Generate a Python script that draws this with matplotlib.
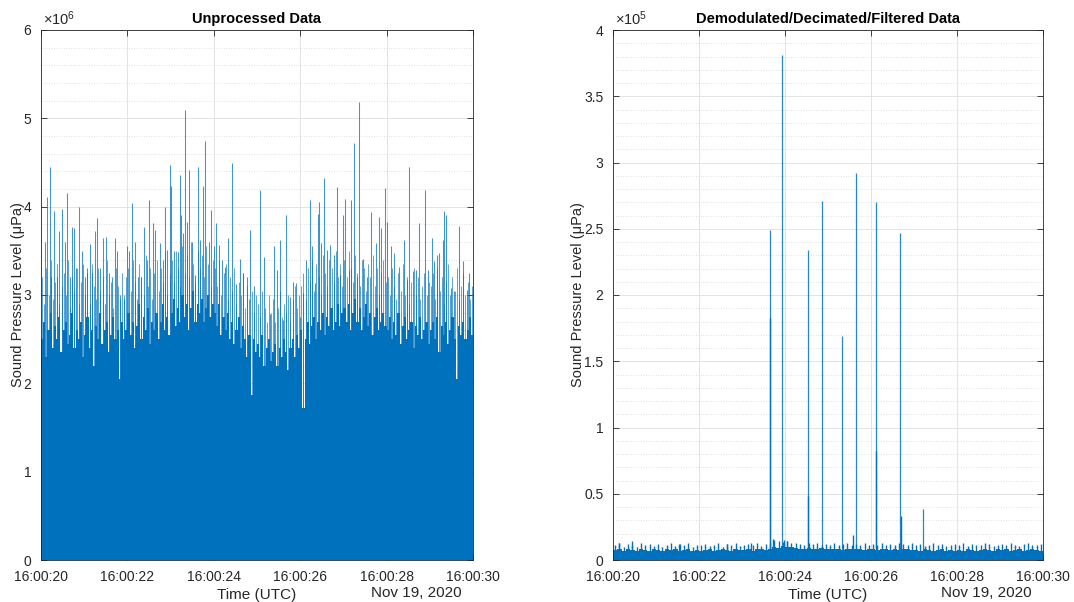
import datetime
import numpy as np
import matplotlib
matplotlib.use("Agg")
import matplotlib.pyplot as plt
import matplotlib.dates as mdates
import matplotlib.ticker as ticker

plt.rcParams["font.family"] = ["Liberation Sans", "DejaVu Sans"]
plt.rcParams["mathtext.fontset"] = "custom"
plt.rcParams["mathtext.rm"] = "Liberation Sans"
plt.rcParams["mathtext.it"] = "Liberation Sans:italic"

t0 = datetime.datetime(2020, 11, 19, 16, 0, 20)
tick_secs = [0, 2, 4, 6, 8, 10]

# --- unprocessed data (x1e6 uPa) ---
# solid noise body, one level every 0.05 s
raw_body = [
    2.50, 2.70, 2.30, 2.60, 2.80, 2.40, 2.65, 2.50, 2.75, 2.35, 2.60, 2.70, 2.45, 2.55, 2.80, 2.40, 2.60, 2.50, 2.70, 2.30,
    2.55, 2.75, 2.40, 2.60, 2.20, 2.65, 2.50, 2.80, 2.45, 2.60, 2.70, 2.35, 2.55, 2.75, 2.50, 2.60, 2.05, 2.70, 2.50, 2.60,
    2.80, 2.55, 2.70, 2.40, 2.65, 2.90, 2.50, 2.75, 2.60, 2.85, 2.45, 2.70, 2.60, 2.80, 2.50, 2.70, 2.90, 2.60, 2.75, 2.55,
    2.80, 2.95, 2.65, 2.85, 2.70, 3.00, 2.75, 2.90, 2.60, 2.85, 3.05, 2.70, 2.90, 2.80, 2.95, 2.70, 2.85, 3.00, 2.75, 2.90,
    2.80, 2.65, 2.90, 2.55, 2.75, 2.60, 2.80, 2.50, 2.70, 2.45, 2.60, 2.75, 2.40, 2.65, 2.50, 2.30, 2.55, 1.87, 2.50, 2.35,
    2.45, 2.30, 2.55, 2.20, 2.40, 2.50, 2.25, 2.35, 2.45, 2.20, 2.40, 2.30, 2.50, 2.35, 2.15, 2.40, 2.50, 2.30, 2.55, 2.40,
    2.60, 1.72, 2.50, 2.70, 2.45, 2.65, 2.75, 2.50, 2.70, 2.60, 2.80, 2.55, 2.75, 2.65, 2.85, 2.60, 2.70, 2.90, 2.65, 2.80,
    2.85, 2.70, 2.90, 2.60, 2.80, 2.95, 2.70, 2.85, 2.60, 2.75, 2.90, 2.65, 2.80, 2.55, 2.75, 2.85, 2.60, 2.70, 2.80, 2.65,
    2.60, 2.75, 2.50, 2.70, 2.55, 2.80, 2.45, 2.65, 2.75, 2.50, 2.60, 2.70, 2.40, 2.65, 2.55, 2.75, 2.50, 2.60, 2.70, 2.45,
    2.60, 2.70, 2.50, 2.75, 2.35, 2.65, 2.55, 2.70, 2.45, 2.60, 2.75, 2.50, 2.05, 2.65, 2.55, 2.70, 2.50, 2.60, 2.75, 2.55,
]

# thinner oscillations just above the body, one every 0.05 s (offset 0.025 s)
raw_mid = [
    3.20, 2.90, 3.30, 3.00, 3.40, 2.95, 3.15, 3.35, 2.90, 3.10, 3.25, 3.00, 3.40, 2.85, 3.20, 3.05, 3.30, 2.90, 3.15, 3.35,
    3.00, 3.25, 2.90, 3.35, 3.10, 2.95, 3.30, 3.05, 3.20, 2.90, 3.40, 3.00, 3.15, 2.85, 3.30, 3.10, 2.95, 3.25, 3.00, 3.20,
    3.30, 3.05, 3.40, 3.15, 2.95, 3.35, 3.20, 3.00, 3.45, 3.10, 3.30, 2.95, 3.25, 3.40, 3.05, 3.30, 3.15, 3.50, 3.00, 3.25,
    3.40, 3.15, 3.50, 3.30, 3.10, 3.55, 3.25, 3.45, 3.20, 3.60, 3.35, 3.15, 3.50, 3.30, 3.45, 3.20, 3.55, 3.35, 3.10, 3.40,
    3.30, 3.10, 3.40, 3.00, 3.25, 3.35, 2.95, 3.20, 3.05, 3.30, 2.90, 3.15, 3.00, 3.25, 2.85, 3.10, 2.95, 3.05, 2.80, 3.00,
    2.90, 2.75, 3.05, 2.85, 2.70, 3.00, 2.80, 2.95, 2.70, 2.85, 3.05, 2.75, 2.90, 2.80, 3.00, 2.70, 2.95, 3.10, 2.85, 3.00,
    3.10, 3.25, 2.95, 3.30, 3.15, 3.40, 3.05, 3.35, 3.20, 3.00, 3.45, 3.25, 3.10, 3.40, 3.30, 3.15, 3.50, 3.20, 3.35, 3.10,
    3.40, 3.20, 3.50, 3.30, 3.15, 3.45, 3.25, 3.10, 3.40, 3.30, 3.05, 3.35, 3.20, 3.45, 3.10, 3.30, 3.00, 3.25, 3.40, 3.15,
    3.20, 3.00, 3.30, 3.10, 2.95, 3.25, 3.05, 3.35, 3.00, 3.20, 2.90, 3.15, 3.30, 3.00, 3.20, 2.95, 3.10, 3.25, 3.00, 3.15,
    3.10, 3.25, 2.95, 3.30, 3.05, 3.20, 2.90, 3.15, 3.35, 3.00, 3.20, 3.05, 3.30, 2.95, 3.10, 3.25, 3.00, 3.15, 2.95, 3.10,
]

# individual tall peaks: seconds after 16:00:20 and level
raw_peak_t = [
    0.085, 0.147, 0.20, 0.24, 0.30, 0.36, 0.42, 0.486, 0.55, 0.61,
    0.66, 0.71, 0.76, 0.82, 0.89, 0.94, 1.01, 1.06, 1.13, 1.18,
    1.24, 1.30, 1.37, 1.44, 1.51, 1.58, 1.64, 1.71, 1.77, 1.84,
    1.91, 1.98, 2.04, 2.11, 2.18, 2.24, 2.32, 2.38, 2.45, 2.51,
    2.60, 2.63, 2.75, 2.82, 2.88, 2.92, 2.99, 3.02, 3.08, 3.16,
    3.22, 3.25, 3.29, 3.33, 3.39, 3.42, 3.49, 3.57, 3.64, 3.69,
    3.75, 3.79, 3.89, 3.94, 4.00, 4.05, 4.11, 4.19, 4.25, 4.34,
    4.43, 4.52, 4.61, 4.68, 4.78, 4.84, 4.93, 5.06, 5.16, 5.31,
    5.39, 5.46, 5.53, 5.61, 5.68, 5.76, 5.83, 5.90, 5.99, 6.06,
    6.13, 6.23, 6.28, 6.35, 6.41, 6.44, 6.47, 6.55, 6.63, 6.68,
    6.79, 6.86, 6.93, 6.98, 7.04, 7.12, 7.18, 7.25, 7.31, 7.36,
    7.45, 7.55, 7.64, 7.75, 7.83, 7.87, 7.97, 8.02, 8.10, 8.16,
    8.29, 8.40, 8.48, 8.53, 8.60, 8.67, 8.76, 8.89, 8.95, 9.04,
    9.10, 9.17, 9.22, 9.30, 9.34, 9.38, 9.49, 9.57, 9.68, 9.78,
    9.85, 9.91,
]
raw_peak_h = [
    3.60, 4.11, 4.45, 3.20, 3.95, 3.20, 3.73, 3.97, 3.60, 4.15,
    3.20, 3.77, 3.76, 3.30, 4.00, 3.50, 3.20, 3.30, 3.58, 3.25,
    3.72, 3.87, 3.30, 3.65, 3.66, 3.25, 3.20, 3.65, 3.50, 3.00,
    2.95, 3.55, 3.50, 4.04, 3.60, 3.20, 3.20, 3.77, 3.40, 4.07,
    3.82, 3.74, 3.59, 3.40, 4.00, 3.51, 4.47, 4.23, 3.50, 3.49,
    4.36, 3.90, 3.70, 5.09, 3.83, 4.42, 3.60, 3.23, 4.45, 3.62,
    4.23, 4.74, 3.60, 3.96, 3.55, 3.82, 3.57, 3.40, 3.32, 3.64,
    4.49, 3.13, 3.41, 3.25, 3.20, 3.74, 3.10, 4.19, 3.43, 2.79,
    3.55, 3.28, 3.62, 2.72, 3.90, 2.98, 3.15, 3.14, 2.75, 3.02,
    3.40, 4.07, 3.55, 3.14, 3.92, 4.05, 3.59, 4.32, 3.51, 3.57,
    3.45, 4.22, 3.23, 3.90, 4.09, 3.28, 4.07, 4.72, 3.20, 5.18,
    3.41, 3.20, 3.94, 3.59, 3.88, 3.76, 4.21, 3.83, 3.55, 3.48,
    3.32, 3.62, 3.17, 4.45, 3.27, 3.28, 3.82, 4.19, 3.28, 3.65,
    3.38, 3.45, 3.47, 3.62, 3.95, 3.90, 3.08, 3.04, 3.78, 3.39,
    3.06, 3.25,
]

# --- demodulated / decimated / filtered data (x1e5 uPa) ---
# noise floor, one level every 0.1 s
demod_floor = [
    0.075, 0.080, 0.070, 0.085, 0.075, 0.070, 0.080, 0.075, 0.070, 0.080,
    0.075, 0.070, 0.080, 0.075, 0.085, 0.070, 0.075, 0.080, 0.070, 0.075,
    0.070, 0.075, 0.080, 0.070, 0.075, 0.080, 0.075, 0.070, 0.080, 0.075,
    0.075, 0.080, 0.070, 0.080, 0.085, 0.075, 0.080, 0.100, 0.090, 0.105,
    0.095, 0.100, 0.090, 0.085, 0.080, 0.090, 0.085, 0.080, 0.090, 0.085,
    0.080, 0.085, 0.080, 0.075, 0.085, 0.080, 0.085, 0.080, 0.075, 0.080,
    0.080, 0.075, 0.080, 0.085, 0.075, 0.080, 0.075, 0.085, 0.080, 0.075,
    0.075, 0.070, 0.080, 0.075, 0.070, 0.075, 0.080, 0.070, 0.075, 0.070,
    0.075, 0.070, 0.080, 0.075, 0.070, 0.075, 0.080, 0.075, 0.070, 0.080,
    0.075, 0.080, 0.070, 0.075, 0.080, 0.070, 0.075, 0.080, 0.075, 0.070,
]

# ripple tops, one every 0.1 s (offset 0.05 s)
demod_ripple = [
    0.110, 0.130, 0.100, 0.120, 0.115, 0.100, 0.125, 0.110, 0.120, 0.105,
    0.120, 0.100, 0.115, 0.130, 0.105, 0.120, 0.110, 0.125, 0.100, 0.115,
    0.110, 0.120, 0.105, 0.115, 0.125, 0.100, 0.120, 0.110, 0.130, 0.105,
    0.115, 0.120, 0.110, 0.125, 0.105, 0.120, 0.130, 0.150, 0.140, 0.135,
    0.140, 0.125, 0.130, 0.120, 0.115, 0.125, 0.120, 0.130, 0.110, 0.120,
    0.115, 0.125, 0.110, 0.120, 0.130, 0.115, 0.120, 0.110, 0.125, 0.115,
    0.120, 0.110, 0.125, 0.115, 0.120, 0.110, 0.130, 0.120, 0.110, 0.125,
    0.110, 0.120, 0.105, 0.115, 0.125, 0.110, 0.120, 0.105, 0.115, 0.120,
    0.110, 0.125, 0.105, 0.120, 0.115, 0.110, 0.125, 0.120, 0.105, 0.115,
    0.120, 0.110, 0.125, 0.115, 0.105, 0.120, 0.130, 0.110, 0.115, 0.120,
]

pulse_t = [3.65, 3.93, 4.53, 4.86, 5.32, 5.64, 6.11, 6.68, 7.22]
pulse_h = [2.49, 3.81, 2.34, 2.71, 1.69, 2.92, 2.70, 2.47, 0.385]

blip_t = [0.15, 0.45, 1.53, 2.64, 3.22, 3.66, 3.73, 3.98, 4.04, 4.54, 5.57, 6.12, 6.69]
blip_h = [0.13, 0.14, 0.12, 0.12, 0.13, 1.83, 0.16, 0.15, 0.14, 0.48, 0.19, 0.82, 0.33]

LINE = "#0072BD"
AXC = "#262626"


def tnum(secs):
    return mdates.date2num(t0) + np.asarray(secs, dtype=float) / 86400.0


def matlab_axes(ax, ymax, ystep, yminor, scale, exp, ylab_x):
    ax.set_xlim(tnum(0), tnum(10))
    ax.set_ylim(0, ymax * scale)
    ax.set_xticks(tnum(tick_secs))
    ax.xaxis.set_major_formatter(mdates.DateFormatter("%H:%M:%S"))
    ax.yaxis.set_major_locator(ticker.MultipleLocator(ystep * scale))
    ax.yaxis.set_minor_locator(ticker.MultipleLocator(yminor * scale))
    ax.yaxis.set_major_formatter(ticker.FuncFormatter(lambda v, _: f"{v / scale:g}"))
    ax.grid(which="major", color="#e3e3e3", linewidth=0.7)
    ax.grid(which="minor", axis="y", color="#d6d6d6", linewidth=0.6, linestyle=(0, (1, 2)))
    ax.set_axisbelow(True)
    ax.tick_params(which="major", direction="in", length=4, width=0.6,
                   top=True, right=True, colors=AXC, labelsize=10, pad=7)
    ax.tick_params(which="minor", length=0)
    for sp in ax.spines.values():
        sp.set_color(AXC)
        sp.set_linewidth(0.6)
    ax.set_ylabel("Sound Pressure Level (μPa)", fontsize=10.5, color=AXC)
    ax.yaxis.set_label_coords(ylab_x, 0.5)
    ax.set_xlabel("Time (UTC)", fontsize=11, color=AXC, labelpad=3)
    ax.text(0.004, 1.004, r"$\times10^{%d}$" % exp, transform=ax.transAxes,
            fontsize=10.5, color=AXC, ha="left", va="bottom")
    ax.annotate("Nov 19, 2020", xy=(1, 0), xycoords="axes fraction",
                xytext=(-8.5, -24), textcoords="offset points",
                ha="right", va="center", fontsize=11, color=AXC)


fig = plt.figure(figsize=(10.74, 6.02), dpi=100)
ax1 = fig.add_axes([41 / 1074, 42 / 602, 432 / 1074, 530 / 602])
ax2 = fig.add_axes([613 / 1074, 42 / 602, 430 / 1074, 530 / 602])

# left: unprocessed
edges = np.arange(len(raw_body) + 1) * 0.05
body = np.array(raw_body + [raw_body[-1]]) * 1e6
ax1.fill_between(tnum(edges), 0, body, step="post", color=LINE, linewidth=0)
mid_t = np.arange(len(raw_mid)) * 0.05 + 0.025
ax1.vlines(tnum(mid_t), 0, np.array(raw_mid) * 1e6, color=LINE, linewidth=0.6, alpha=0.75)
ax1.vlines(tnum(raw_peak_t), 0, np.array(raw_peak_h) * 1e6, color=LINE, linewidth=0.75, alpha=0.75)
matlab_axes(ax1, 6, 1, 0.2, 1e6, 6, -0.037)
ax1.set_title("Unprocessed Data", fontsize=10.5, fontweight="bold", pad=5)

# right: demodulated
edges2 = np.arange(len(demod_floor) + 1) * 0.1
floor = np.array(demod_floor + [demod_floor[-1]]) * 1e5
ax2.fill_between(tnum(edges2), 0, floor, step="post", color=LINE, linewidth=0)
rip_t = np.arange(len(demod_ripple)) * 0.1 + 0.05
ax2.vlines(tnum(rip_t), 0, np.array(demod_ripple) * 1e5, color=LINE, linewidth=1.0)
ax2.vlines(tnum(blip_t), 0, np.array(blip_h) * 1e5, color=LINE, linewidth=1.0)
ax2.vlines(tnum(pulse_t), 0, np.array(pulse_h) * 1e5, color=LINE, linewidth=0.9, alpha=0.85)
matlab_axes(ax2, 4, 0.5, 0.1, 1e5, 5, -0.065)
ax2.set_title("Demodulated/Decimated/Filtered Data", fontsize=10.5, fontweight="bold", pad=5)

fig.savefig("out.png", dpi=100, facecolor="white")
